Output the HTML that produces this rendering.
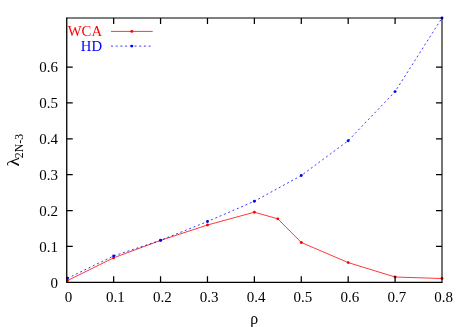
<!DOCTYPE html>
<html><head><meta charset="utf-8">
<title>plot</title>
<style>
html,body{margin:0;padding:0;background:#fff;}
body{width:466px;height:327px;overflow:hidden;font-family:"Liberation Serif",serif;}
svg{display:block;will-change:transform;}
text{font-family:"Liberation Serif",serif;}
</style></head><body>
<svg width="466" height="327" viewBox="0 0 466 327">
<rect width="466" height="327" fill="#fff"/>
<polyline fill="none" stroke="#ff0000" stroke-width="0.78" points="67.45,280.6 113.66,257.8 160.56,240.4 207.47,225.0 254.38,212.2 277.83,218.85 301.28,242.45 348.19,262.6 395.09,277 442.00,278.5"/>
<g fill="#ff0000"><circle cx="67.45" cy="280.6" r="1.45"/><circle cx="113.66" cy="257.8" r="1.45"/><circle cx="160.56" cy="240.4" r="1.45"/><circle cx="207.47" cy="225.0" r="1.45"/><circle cx="254.38" cy="212.2" r="1.45"/><circle cx="277.83" cy="218.85" r="1.45"/><circle cx="301.28" cy="242.45" r="1.45"/><circle cx="348.19" cy="262.6" r="1.45"/><circle cx="395.09" cy="277" r="1.45"/><circle cx="442.00" cy="278.5" r="1.45"/></g>
<polyline fill="none" stroke="#0000ff" stroke-width="0.78" stroke-dasharray="2,2.7" points="67.45,278.3 113.66,255.9 160.56,240.3 207.47,221.55 254.38,201.25 301.28,175.55 348.19,140.74 395.09,91.6 442.00,18.0"/>
<g fill="#0000ff"><circle cx="67.45" cy="278.3" r="1.45"/><circle cx="113.66" cy="255.9" r="1.45"/><circle cx="160.56" cy="240.3" r="1.45"/><circle cx="207.47" cy="221.55" r="1.45"/><circle cx="254.38" cy="201.25" r="1.45"/><circle cx="301.28" cy="175.55" r="1.45"/><circle cx="348.19" cy="140.74" r="1.45"/><circle cx="395.09" cy="91.6" r="1.45"/><circle cx="442.00" cy="18.0" r="1.45"/></g>
<text x="102" y="36" font-size="14.7" fill="#ff0000" text-anchor="end">WCA</text>
<text x="102" y="51" font-size="14.7" fill="#0000ff" text-anchor="end">HD</text>
<line x1="111" y1="31.4" x2="152.7" y2="31.4" stroke="#ff0000" stroke-width="0.78"/>
<line x1="111" y1="46.1" x2="152.7" y2="46.1" stroke="#0000ff" stroke-width="0.78" stroke-dasharray="2,2.7"/>
<circle cx="131.8" cy="31.4" r="1.45" fill="#ff0000"/><circle cx="131.8" cy="46.1" r="1.45" fill="#0000ff"/>
<g stroke="#000" stroke-width="1.25" fill="none">
<path d="M66.75 17.45V282.35H442.55" stroke-width="1.3" stroke-linejoin="miter"/>
<path d="M66.75 18.0H442.0V282.35" stroke-width="1.08"/>
<path d="M113.66 282.35v-6M113.66 18.0v6M160.56 282.35v-6M160.56 18.0v6M207.47 282.35v-6M207.47 18.0v6M254.38 282.35v-6M254.38 18.0v6M301.28 282.35v-6M301.28 18.0v6M348.19 282.35v-6M348.19 18.0v6M395.09 282.35v-6M395.09 18.0v6M66.75 246.46h6M442.0 246.46h-6M66.75 210.57h6M442.0 210.57h-6M66.75 174.68h6M442.0 174.68h-6M66.75 138.79h6M442.0 138.79h-6M66.75 102.90h6M442.0 102.90h-6M66.75 67.01h6M442.0 67.01h-6"/></g>
<g font-size="15" fill="#000">
<g text-anchor="end">
<text x="58.0" y="287.65">0</text>
<text x="58.0" y="251.76">0.1</text>
<text x="58.0" y="215.87">0.2</text>
<text x="58.0" y="179.98">0.3</text>
<text x="58.0" y="144.09">0.4</text>
<text x="58.0" y="108.20">0.5</text>
<text x="58.0" y="72.31">0.6</text>
</g><g text-anchor="middle">
<text x="68.45" y="302">0</text>
<text x="115.36" y="302">0.1</text>
<text x="162.26" y="302">0.2</text>
<text x="209.17" y="302">0.3</text>
<text x="256.07" y="302">0.4</text>
<text x="302.98" y="302">0.5</text>
<text x="349.89" y="302">0.6</text>
<text x="396.79" y="302">0.7</text>
<text x="443.70" y="302">0.8</text>
</g>
<text x="254.3" y="324" font-size="15.8" text-anchor="middle">ρ</text>
<g transform="translate(18.8,166.6) rotate(-90)"><text font-size="16.5" transform="scale(1.18,1)">λ</text><text x="8.4" y="4" font-size="11.8">2N-3</text></g>
</g></svg></body></html>
